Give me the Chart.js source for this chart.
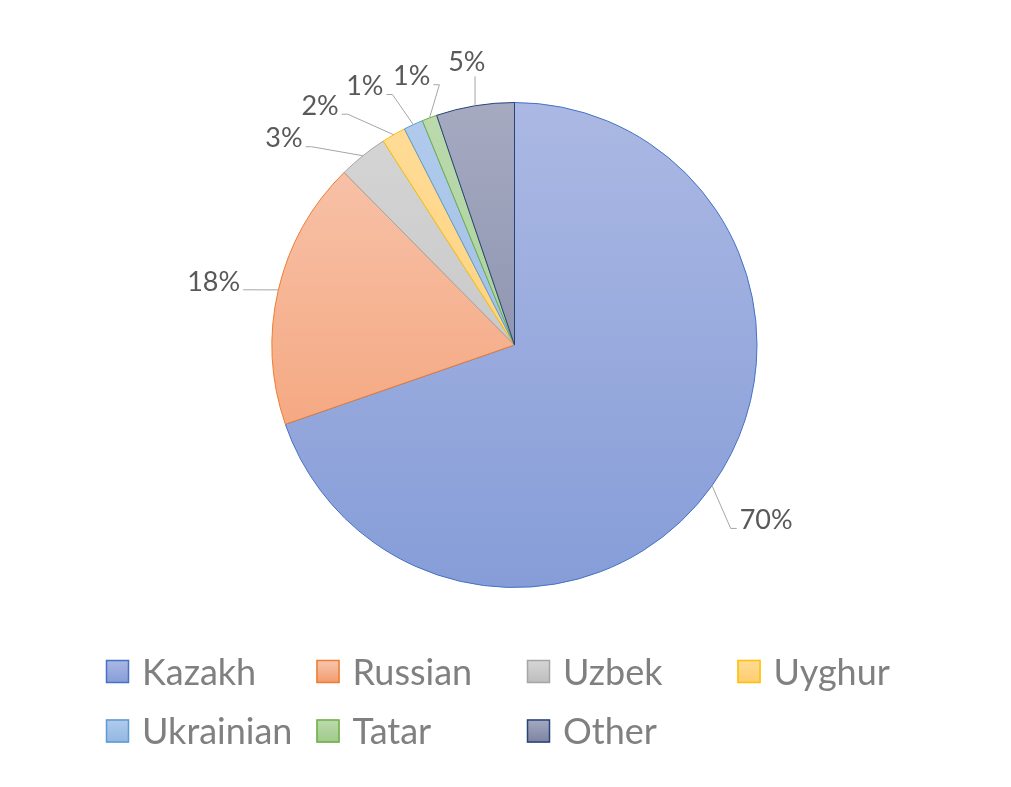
<!DOCTYPE html>
<html>
<head>
<meta charset="utf-8">
<script src="https://cdn.jsdelivr.net/npm/chart.js@4.4.1/dist/chart.umd.min.js"></script>
<style>
html,body{margin:0;padding:0;background:#ffffff;}
#wrap{width:1011px;height:787px;position:relative;}
</style>
</head>
<body>
<div id="wrap"><canvas id="c" width="1011" height="787"></canvas></div>
<script>
// ---- data ----
const categories = ['Kazakh', 'Russian', 'Uzbek', 'Uyghur', 'Ukrainian', 'Tatar', 'Other'];
const shares = [69.7, 17.9, 3.3, 1.6, 1.3, 1.0, 5.2];

// ---- styles ----
const topColors = ['#abb8e3', '#f8c7b1', '#d6d6d6', '#ffdc98', '#b1cbec', '#bcdaae', '#a5aac1'];
const bottomColors = ['#869dd8', '#f39a6b', '#bdbdbd', '#ffcc6c', '#92b7e2', '#9fca8a', '#7c83a2'];
const borderColors = ['#4472c4', '#ed7d31', '#a5a5a5', '#ffc000', '#5b9bd5', '#70ad47', '#264478'];

function sliceFill(context) {
  const chart = context.chart;
  const area = chart.chartArea;
  const i = context.dataIndex;
  if (!area || i === undefined) return topColors[i || 0];
  const g = chart.ctx.createLinearGradient(0, area.top, 0, area.bottom);
  g.addColorStop(0, topColors[i]);
  g.addColorStop(1, bottomColors[i]);
  return g;
}

const outLabels = {
  id: 'outLabels',
  afterDatasetsDraw(chart) {
    const ctx = chart.ctx;
    const meta = chart.getDatasetMeta(0);
    const arcs = meta.data;
    const vals = chart.data.datasets[0].data;
    const total = vals.reduce((a, b) => a + b, 0);
    const cx = arcs[0].x, cy = arcs[0].y, r = arcs[0].outerRadius;
    ctx.save();
    ctx.font = '27px Lato';
    const h = 26, capH = 19.4;
    const items = arcs.map((a, i) => {
      const mid = (a.startAngle + a.endAngle) / 2;
      const text = Math.round(vals[i] * 100 / total) + '%';
      return { i, mid, adj: mid, text, w: ctx.measureText(text).width, small: vals[i] / total < 0.1 };
    });
    // spread small labels so they don't collide
    const smalls = items.filter(it => it.small).sort((a, b) => b.mid - a.mid);
    const minGap = 9 * Math.PI / 180;
    for (let k = 1; k < smalls.length; k++) {
      smalls[k].adj = Math.min(smalls[k].mid, smalls[k - 1].adj - minGap);
    }
    items.forEach(it => {
      const ux = Math.cos(it.adj), uy = Math.sin(it.adj);
      const shiftDeg = (it.mid - it.adj) * 180 / Math.PI;
      const d = it.small ? r + 32 + 2.2 * shiftDeg : r + 40;
      const tx = cx + d * ux + ux * it.w / 2;
      const ty = cy + d * uy + uy * h / 2 + (it.small ? 0 : 3);
      const ax = cx + r * Math.cos(it.mid), ay = cy + r * Math.sin(it.mid);
      const left = tx - it.w / 2, right = tx + it.w / 2, bottom = ty + h / 2 - 2;
      ctx.strokeStyle = '#a6a6a6';
      ctx.lineWidth = 1;
      ctx.beginPath();
      if (ax > left + 3 && ax < right - 3) {
        ctx.moveTo(ax, bottom + 4);
        ctx.lineTo(ax, ay);
      } else if (ax >= right - 3) {
        ctx.moveTo(right + 3, ty + 9);
        ctx.lineTo(right + 9, ty + 9);
        ctx.lineTo(ax, ay);
      } else {
        ctx.moveTo(left - 3, ty + 9);
        ctx.lineTo(left - 9, ty + 9);
        ctx.lineTo(ax, ay);
      }
      ctx.stroke();
      ctx.fillStyle = '#595959';
      ctx.textAlign = 'center';
      ctx.textBaseline = 'alphabetic';
      ctx.fillText(it.text, tx, ty + capH / 2);
    });
    ctx.restore();
  }
};

const gridLegend = {
  id: 'gridLegend',
  afterDraw(chart) {
    const ctx = chart.ctx;
    ctx.save();
    ctx.font = '36px Lato';
    chart.data.labels.forEach((lab, i) => {
      const col = i % 4, row = Math.floor(i / 4);
      const x = 106 + col * 210.5;
      const y = 660 + row * 59.5;
      const s = 23;
      const g = ctx.createLinearGradient(0, y, 0, y + s);
      g.addColorStop(0, topColors[i]);
      g.addColorStop(1, bottomColors[i]);
      ctx.fillStyle = g;
      ctx.fillRect(x, y, s, s);
      ctx.strokeStyle = borderColors[i];
      ctx.lineWidth = 1.5;
      ctx.strokeRect(x + 0.5, y + 0.5, s - 1, s - 1);
      ctx.fillStyle = '#808080';
      ctx.textAlign = 'left';
      ctx.textBaseline = 'alphabetic';
      ctx.fillText(lab, x + 36, y + s + 1.5);
    });
    ctx.restore();
  }
};

new Chart(document.getElementById('c'), {
  type: 'pie',
  data: {
    labels: categories,
    datasets: [{
      data: shares,
      backgroundColor: sliceFill,
      borderColor: borderColors,
      borderWidth: 1
    }]
  },
  options: {
    responsive: false,
    animation: false,
    layout: { padding: { top: 102, bottom: 199, left: 18, right: 0 } },
    plugins: { legend: { display: false }, tooltip: { enabled: false } }
  },
  plugins: [outLabels, gridLegend]
});
</script>
</body>
</html>
